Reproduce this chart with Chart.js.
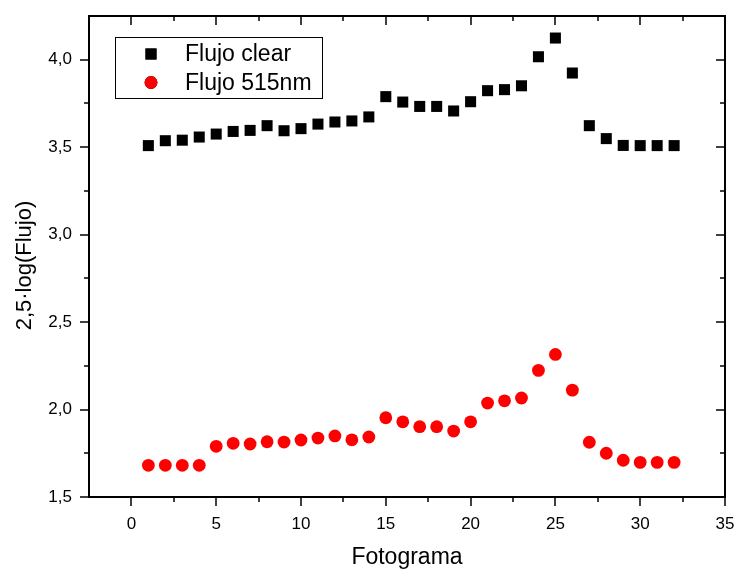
<!DOCTYPE html>
<html>
<head>
<meta charset="utf-8">
<script src="https://cdn.jsdelivr.net/npm/chart.js@4.4.0/dist/chart.umd.min.js"></script>
<style>
  html, body { margin: 0; padding: 0; background: #fff; }
</style>
</head>
<body>
<canvas id="fluxChart" width="738" height="571"></canvas>
<script>
// Fotograma number and 2.5*log(flux) for each filter
const fotogramas = [1, 2, 3, 4, 5, 6, 7, 8, 9, 10, 11, 12, 13, 14, 15, 16,
                    17, 18, 19, 20, 21, 22, 23, 24, 25, 26, 27, 28, 29, 30, 31, 32];
const flujoClear = [3.509, 3.537, 3.540, 3.558, 3.575, 3.590, 3.596, 3.623, 3.594, 3.606, 3.632, 3.644, 3.650, 3.673, 3.789, 3.758,
                    3.733, 3.733, 3.707, 3.760, 3.823, 3.829, 3.851, 4.017, 4.124, 3.924, 3.623, 3.549, 3.510, 3.509, 3.509, 3.509];
const flujo515 = [1.681, 1.681, 1.681, 1.681, 1.790, 1.807, 1.803, 1.816, 1.814, 1.826, 1.837, 1.849, 1.827, 1.843, 1.953, 1.930,
                  1.902, 1.902, 1.877, 1.930, 2.037, 2.050, 2.066, 2.224, 2.315, 2.111, 1.813, 1.750, 1.710, 1.698, 1.698, 1.698];

const xMajor = [0, 5, 10, 15, 20, 25, 30, 35];
const xMinor = [2.5, 7.5, 12.5, 17.5, 22.5, 27.5, 32.5];
const yMajor = [1.5, 2.0, 2.5, 3.0, 3.5, 4.0];
const yMinor = [1.75, 2.25, 2.75, 3.25, 3.75];
const yTitle = '2,5·log(Flujo)';

const FONT = "'Liberation Sans', Arial, sans-serif";

const toPoints = vals => fotogramas.map((f, i) => ({ x: f, y: vals[i] }));

// box around the plot with Origin-style ticks: outward on bottom/left, inward on top/right
const frameTicks = {
    id: 'frameTicks',
    afterDraw(chart) {
        const { ctx, chartArea: a, scales: { x, y } } = chart;
        ctx.save();
        ctx.strokeStyle = '#000';
        ctx.lineWidth = 2;
        ctx.strokeRect(a.left, a.top, a.right - a.left, a.bottom - a.top);
        ctx.lineWidth = 1.5;
        const tick = (x1, y1, x2, y2) => {
            ctx.beginPath(); ctx.moveTo(x1, y1); ctx.lineTo(x2, y2); ctx.stroke();
        };
        const xt = (vals, len) => vals.forEach(v => {
            const px = Math.round(x.getPixelForValue(v));
            tick(px, a.bottom, px, a.bottom + len);
            tick(px, a.top, px, a.top + len);
        });
        const yt = (vals, len) => vals.forEach(v => {
            const py = Math.round(y.getPixelForValue(v));
            tick(a.left - len, py, a.left, py);
            tick(a.right - len, py, a.right, py);
        });
        xt(xMajor, 9); xt(xMinor, 5);
        yt(yMajor, 9); yt(yMinor, 5);

        // vertical axis title, sitting a little below the middle of the axis
        ctx.translate(31, (a.top + a.bottom) / 2 + 9);
        ctx.rotate(-Math.PI / 2);
        ctx.font = '22px ' + FONT;
        ctx.fillStyle = '#000';
        ctx.textAlign = 'center';
        ctx.textBaseline = 'alphabetic';
        ctx.fillText(yTitle, 0, 0);
        ctx.restore();
    }
};

// legend box in the upper left corner of the plot
const boxLegend = {
    id: 'boxLegend',
    afterDraw(chart) {
        const { ctx, chartArea: a } = chart;
        const left = a.left + 26, top = a.top + 21;
        ctx.save();
        ctx.strokeStyle = '#000';
        ctx.lineWidth = 1;
        ctx.strokeRect(left + 0.5, top + 0.5, 207, 61);
        ctx.font = '23px ' + FONT;
        ctx.textBaseline = 'middle';
        ctx.fillStyle = '#000';
        chart.data.datasets.forEach((ds, i) => {
            const cy = top + 17 + i * 28.5;
            Chart.helpers.drawPoint(ctx, {
                pointStyle: ds.pointStyle, radius: ds.pointRadius, borderWidth: 0
            }, left + 36, cy);
            ctx.fillStyle = ds.backgroundColor;
            ctx.fill();
            ctx.fillStyle = '#000';
            ctx.fillText(ds.label, left + 70, cy + 1);
        });
        ctx.restore();
    }
};

new Chart(document.getElementById('fluxChart'), {
    type: 'scatter',
    data: {
        datasets: [{
            label: 'Flujo clear',
            data: toPoints(flujoClear),
            pointStyle: 'rect',
            pointRadius: 7.8,
            backgroundColor: '#000000',
            borderWidth: 0
        }, {
            label: 'Flujo 515nm',
            data: toPoints(flujo515),
            pointStyle: 'circle',
            pointRadius: 6.4,
            backgroundColor: '#ff0000',
            borderWidth: 0
        }]
    },
    options: {
        responsive: false,
        animation: false,
        layout: { padding: { top: 16, right: 13, left: 0, bottom: 0 } },
        plugins: {
            legend: { display: false },
            tooltip: { enabled: false }
        },
        scales: {
            x: {
                type: 'linear',
                min: -2.5,
                max: 35,
                grid: { display: false },
                border: { display: false },
                afterBuildTicks: s => { s.ticks = xMajor.map(v => ({ value: v })); },
                afterFit: s => { s.height = 74; s.paddingLeft = 0; s.paddingRight = 0; },
                ticks: {
                    color: '#000',
                    padding: 9,
                    font: { family: FONT, size: 17 }
                },
                title: {
                    display: true,
                    text: 'Fotograma',
                    color: '#000',
                    padding: { top: 13, bottom: 0 },
                    font: { family: FONT, size: 23 }
                }
            },
            y: {
                type: 'linear',
                min: 1.5,
                max: 4.25,
                grid: { display: false },
                border: { display: false },
                afterBuildTicks: s => { s.ticks = yMajor.map(v => ({ value: v })); },
                afterFit: s => { s.width = 89; s.paddingTop = 0; s.paddingBottom = 0; },
                ticks: {
                    color: '#000',
                    padding: 9,
                    font: { family: FONT, size: 17 },
                    callback: v => v.toFixed(1).replace('.', ',')
                },
                title: { display: false }
            }
        }
    },
    plugins: [frameTicks, boxLegend]
});
</script>
</body>
</html>
